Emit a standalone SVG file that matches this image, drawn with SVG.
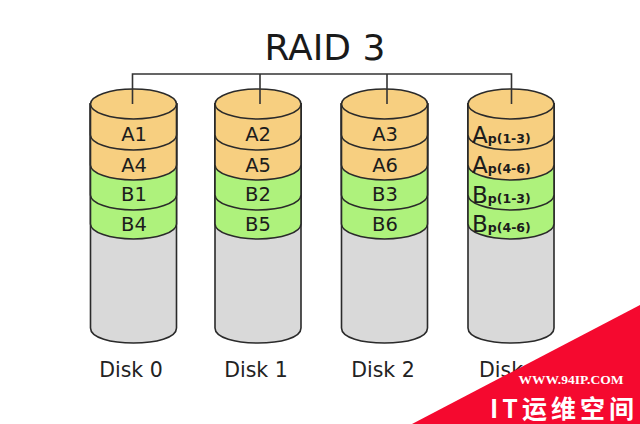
<svg xmlns="http://www.w3.org/2000/svg" width="640" height="424" viewBox="0 0 640 424">
<style>
text{font-family:"DejaVu Sans",sans-serif;fill:#1c1c1c;text-anchor:middle}
.t{font-size:19.500px}
.d{font-size:20.500px;fill:#222}
.s{font-size:23px;text-anchor:start}
.s tspan{font-size:12.500px;font-weight:bold}
.o{fill:#f7cf80}
.g{fill:#aef27c}
.e{fill:#d9d9d9}
.c path,.c ellipse{stroke:#2a2a2a;stroke-width:1.600}
</style>
<defs>
<g id="disk">
<g class="c">
<path class="e" d="M-43 0V224C-43 234 -22 239 0 239S43 234 43 224V0Z"/>
<path class="g" d="M-43 0V120A43 15 0 0 0 43 120V0Z"/>
<path class="g" d="M-43 0V91A43 15 0 0 0 43 91V0Z"/>
<path class="o" d="M-43 0V61A43 15 0 0 0 43 61V0Z"/>
<path class="o" d="M-43 0V31A43 15 0 0 0 43 31V0Z"/>
<ellipse class="o" cx="0" cy="0" rx="43" ry="15"/>
</g>
</g>
</defs>
<rect width="640" height="424" fill="#fff"/>
<g id="disk0"><use href="#disk" x="133.500" y="104"/><text class="t" x="134" y="141">A1</text><text class="t" x="134" y="172">A4</text><text class="t" x="134" y="201">B1</text><text class="t" x="134" y="231">B4</text><text class="d" x="131" y="377">Disk 0</text></g>
<g id="disk1"><use href="#disk" x="258" y="104"/><text class="t" x="258" y="141">A2</text><text class="t" x="258" y="172">A5</text><text class="t" x="258" y="201">B2</text><text class="t" x="258" y="231">B5</text><text class="d" x="256" y="377">Disk 1</text></g>
<g id="disk2"><use href="#disk" x="384.500" y="104"/><text class="t" x="385" y="141">A3</text><text class="t" x="385" y="172">A6</text><text class="t" x="385" y="201">B3</text><text class="t" x="385" y="231">B6</text><text class="d" x="383" y="377">Disk 2</text></g>
<g id="disk3"><use href="#disk" x="511" y="104"/><text class="s" x="472" y="143">A<tspan>p(1-3)</tspan></text><text class="s" x="472" y="173">A<tspan>p(4-6)</tspan></text><text class="s" x="472" y="203">B<tspan>p(1-3)</tspan></text><text class="s" x="472" y="232">B<tspan>p(4-6)</tspan></text><text class="d" x="479" y="377" style="text-anchor:start">Disk</text></g>
<g id="connectors" fill="none" stroke="#333" stroke-width="1.600"><path d="M132.500 104V74H511.500V104"/><path d="M260 74V104"/><path d="M387 74V104"/></g>
<text x="325" y="60" font-size="36" style="fill:#1a1a1a">RAID 3</text>
<g id="watermark"><path d="M412 424L640 305V424Z" fill="#f5092f"/>
<text x="571" y="384" font-size="13.500" font-weight="bold" style="font-family:'Liberation Serif',serif;fill:#fff">WWW.94IP.COM</text>
<text x="564" y="418" font-size="25" font-weight="bold" letter-spacing="4" style="font-family:'Noto Sans CJK SC',sans-serif;fill:#fff">IT运维空间</text></g>
</svg>
